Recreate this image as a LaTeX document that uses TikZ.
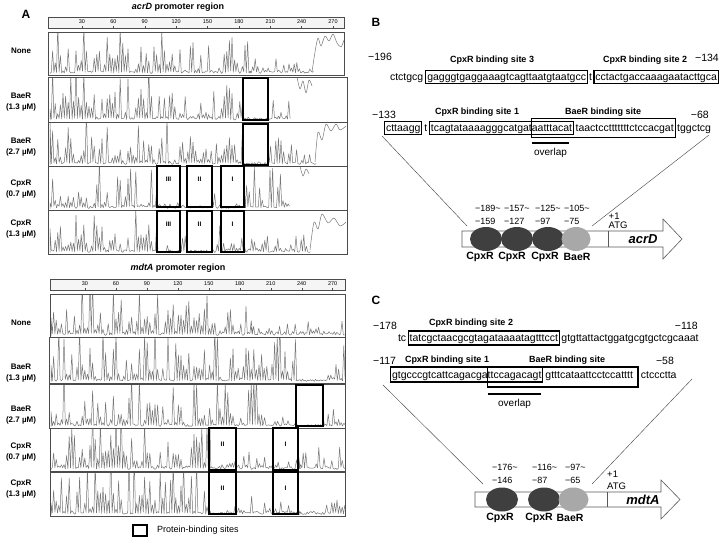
\documentclass[tikz,border=0pt]{standalone}
\usepackage{fontspec}
\setmainfont{Liberation Sans}
\usetikzlibrary{calc,shapes.geometric}
\definecolor{dk}{HTML}{3F3F3F}
\definecolor{lt}{HTML}{A8A8A8}
\definecolor{tr}{HTML}{767676}
\newcommand\seg[3]{\foreach \i in {0,...,#2}{ -- ({#1+2.6*\i},{\yb-#3*rnd*rnd}) -- ({#1+2.6*\i+1.3},{\yb-0.5-2*rnd}) }}
\newcommand\sqbox[4]{\draw[sbox] ($(#1.base west)+(-1.5,-#3)$) rectangle ($(#2.base east)+(1.5,#4)$);}
\tikzset{
  trace/.style={draw=tr, line width=0.5pt, line join=round},
  frame/.style={draw=black!70, line width=0.5pt},
  fp/.style={draw=black, line width=1.6pt},
  lab/.style={font=\fontsize{8}{10.5}\selectfont\bfseries, align=center, inner sep=0pt},
  ticklab/.style={font=\fontsize{5.5}{6}\selectfont, inner sep=0pt},
  roman/.style={font=\fontsize{6.5}{7}\selectfont\bfseries, inner sep=0pt},
  ttl/.style={font=\fontsize{9}{11}\selectfont\bfseries, inner sep=0pt},
  letter/.style={font=\fontsize{12}{14}\selectfont\bfseries, inner sep=0pt},
  seq/.style={font=\fontsize{10.5}{12}\selectfont, inner sep=0pt, outer sep=0pt, text height=7.6pt, text depth=2.4pt, anchor=base west},
  sbox/.style={draw=black, line width=1.1pt},
  hdr/.style={font=\fontsize{9}{11}\selectfont\bfseries, inner sep=0pt},
  posn/.style={font=\fontsize{10.5}{12}\selectfont, inner sep=0pt},
  epos/.style={font=\fontsize{9}{11}\selectfont, inner sep=0pt, anchor=west},
  ell/.style={ellipse, minimum width=32pt, minimum height=24pt, inner sep=0pt},
  prot/.style={font=\fontsize{10.5}{12}\selectfont\bfseries, inner sep=0pt},
  gname/.style={font=\fontsize{13}{15}\selectfont\bfseries\itshape, inner sep=0pt},
  gene/.style={draw=black!65, line width=0.6pt, fill=white},
  diag/.style={draw=black!70, line width=0.45pt},
  ovl/.style={draw=black, line width=1.1pt},
  small/.style={font=\fontsize{9.5}{11}\selectfont, inner sep=0pt, anchor=west}
}
\begin{document}
\begin{tikzpicture}[x=1pt,y=-1pt]
\useasboundingbox (0,0) rectangle (720,538);
\pgfmathsetseed{4321}

% ================= Panel A =================
\node[letter] (A) at (26,14) {A};
\node[ttl] (t1) at (178,7) {{\itshape acrD} promoter region};
\draw[frame, fill=black!4] (48,17) rectangle (344,28);
\foreach \n in {30,60,...,270} {
  \node[ticklab] (ta\n) at ({50.6+1.046*\n},22) {\n};
  \draw[frame,line width=0.3pt] ({50.6+1.046*\n},28) -- ({50.6+1.046*\n},26.3);
}
% None
\begin{scope}
\clip (48,32) rectangle (344,75);
\def\yb{73.5}
\draw[trace] (50,\yb) \seg{50}{77}{55} \seg{250}{24}{16};
\draw[trace] plot[smooth] coordinates {(312,72) (315,52) (318,38) (321,46) (325,36) (329,41) (333,34) (337,43) (341,47) (344,40)};
\end{scope}
\draw[frame] (48,32) rectangle (344,75);
% BaeR 1.3
\begin{scope}
\clip (48,77) rectangle (347,122);
\def\yb{120}
\draw[trace] (50,\yb) \seg{50}{74}{62} \seg{243}{9}{5} \seg{268}{8}{45};
\draw[trace] plot[smooth] coordinates {(297,77) (300,89) (303,81) (306,93) (309,80) (312,86)};
\end{scope}
\draw[frame] (48,77) rectangle (347,122);
% BaeR 2.7
\begin{scope}
\clip (48,122) rectangle (347,166);
\def\yb{164.5}
\draw[trace] (50,\yb) \seg{50}{74}{62} \seg{243}{9}{4} \seg{268}{18}{35};
\draw[trace] plot[smooth] coordinates {(315,162) (318,132) (322,140) (326,124) (331,131) (336,124) (340,130) (346,126)};
\end{scope}
\draw[frame] (48,122) rectangle (347,166);
% CpxR 0.7
\begin{scope}
\clip (48,166) rectangle (347,210);
\def\yb{208.5}
\draw[trace] (50,\yb) \seg{50}{41}{58} \seg{157}{9}{10} \seg{180}{2}{45} \seg{187}{9}{8} \seg{212}{3}{50} \seg{221}{9}{10} \seg{244}{17}{52};
\draw[trace] plot[smooth] coordinates {(300,166) (303,176) (306,169) (309,174)};
\end{scope}
\draw[frame] (48,166) rectangle (347,210);
% CpxR 1.3
\begin{scope}
\clip (48,210) rectangle (347,254);
\def\yb{252.5}
\draw[trace] (50,\yb) \seg{50}{41}{48} \seg{157}{9}{8} \seg{180}{2}{35} \seg{187}{9}{6} \seg{212}{3}{45} \seg{221}{9}{28} \seg{244}{25}{25};
\draw[trace] plot[smooth] coordinates {(310,250) (314,222) (318,229) (322,214) (328,223) (334,218) (340,226) (346,222)};
\end{scope}
\draw[frame] (48,210) rectangle (347,254);
% footprints acrD
\draw[fp] (243,78) rectangle (268,120);
\draw[fp] (243,124) rectangle (268,165);
\foreach \yy/\nm in {166/a,211/b} {
  \draw[fp] (157,\yy) rectangle (180,\yy+41);
  \draw[fp] (187,\yy) rectangle (212,\yy+41);
  \draw[fp] (221,\yy) rectangle (244,\yy+41);
  \node[roman] (r3\nm) at (168.5,\yy+13) {III};
  \node[roman] (r2\nm) at (199.5,\yy+13) {II};
  \node[roman] (r1\nm) at (232.5,\yy+13) {I};
}
\node[lab] (l1) at (21,51) {None};
\node[lab] (l2) at (21,102) {BaeR\\(1.3 µM)};
\node[lab] (l3) at (21,147) {BaeR\\(2.7 µM)};
\node[lab] (l4) at (21,189) {CpxR\\(0.7 µM)};
\node[lab] (l5) at (21,229) {CpxR\\(1.3 µM)};

% mdtA
\node[ttl] (t2) at (178,268) {{\itshape mdtA} promoter region};
\draw[frame, fill=black!4] (50,279) rectangle (345,290);
\foreach \n in {30,60,...,270} {
  \node[ticklab] (tb\n) at ({54+1.032*\n},284) {\n};
  \draw[frame,line width=0.3pt] ({54+1.032*\n},290) -- ({54+1.032*\n},288.3);
}
\begin{scope}
\clip (50,294) rectangle (345,337);
\def\yb{335.5}
\draw[trace] (51,\yb) \seg{51}{77}{68} \seg{251}{36}{20};
\end{scope}
\draw[frame] (50,294) rectangle (345,337);
\begin{scope}
\clip (49,337) rectangle (345,383);
\def\yb{381.5}
\draw[trace] (51,\yb) \seg{51}{94}{70} \seg{296}{10}{2} \seg{323}{8}{45};
\end{scope}
\draw[frame] (49,337) rectangle (345,383);
\begin{scope}
\clip (49,384) rectangle (345,428);
\def\yb{426.5}
\draw[trace] (51,\yb) \seg{51}{81}{66} \seg{262}{13}{18} \seg{296}{10}{3} \seg{323}{8}{25};
\end{scope}
\draw[frame] (49,384) rectangle (345,428);
\begin{scope}
\clip (50,428) rectangle (345,471);
\def\yb{469.5}
\draw[trace] (51,\yb) \seg{51}{61}{70} \seg{209}{10}{15} \seg{236}{14}{20} \seg{273}{10}{15} \seg{298}{18}{25};
\end{scope}
\draw[frame] (50,428) rectangle (345,471);
\begin{scope}
\clip (50,472) rectangle (345,516);
\def\yb{514.5}
\draw[trace] (51,\yb) \seg{51}{61}{70} \seg{209}{10}{15} \seg{236}{14}{22} \seg{273}{10}{15} \seg{298}{18}{25};
\end{scope}
\draw[frame] (50,472) rectangle (345,516);
\draw[fp] (296,385) rectangle (323,426);
\foreach \yy/\nm in {428/a,472/b} {
  \draw[fp] (209,\yy) rectangle (236,\yy+42);
  \draw[fp] (273,\yy) rectangle (298,\yy+42);
  \node[roman] (m2\nm) at (222.5,\yy+16) {II};
  \node[roman] (m1\nm) at (285.5,\yy+16) {I};
}
\node[lab] (k1) at (21,323) {None};
\node[lab] (k2) at (21,373) {BaeR\\(1.3 µM)};
\node[lab] (k3) at (21,415) {BaeR\\(2.7 µM)};
\node[lab] (k4) at (21,452) {CpxR\\(0.7 µM)};
\node[lab] (k5) at (21,489) {CpxR\\(1.3 µM)};
% legend
\draw[fp] (133,525) rectangle (147,536);
\node[font=\fontsize{9}{11}\selectfont, anchor=west, inner sep=0pt] (leg) at (157,530) {Protein-binding sites};

% ================= Panel B =================
\node[letter] (B) at (376,22) {B};
\node[posn, anchor=west] (p196) at (368,57) {−196};
\node[hdr] (h3) at (492,60) {CpxR binding site 3};
\node[hdr] (h2) at (645,60) {CpxR binding site 2};
\node[posn, anchor=east] (p134) at (719,58) {−134};
\node[seq] (b1a) at (390,80) {ctctgcg};
\node[seq] (b1b) at ([xshift=4pt]b1a.base east) {gagggtgaggaaagtcagttaatgtaatgcc};
\node[seq] (b1c) at ([xshift=3pt]b1b.base east) {t};
\node[seq] (b1d) at ([xshift=3.5pt]b1c.base east) {cctactgaccaaagaatacttgca};
\sqbox{b1b}{b1b}{9.5}{3.5}
\sqbox{b1d}{b1d}{9.5}{3.5}

\node[posn, anchor=west] (p133) at (372,115) {−133};
\node[hdr] (h1) at (477,112) {CpxR binding site 1};
\node[hdr] (hb) at (603,112) {BaeR binding site};
\node[posn, anchor=east] (p68) at (709,115) {−68};
\node[seq] (b2a) at (386,131) {cttaagg};
\node[seq] (b2b) at ([xshift=4pt]b2a.base east) {t};
\node[seq] (b2c) at ([xshift=3.5pt]b2b.base east) {tcagtataaaagggcatgat};
\node[seq] (b2d) at (b2c.base east) {aatttacat};
\node[seq] (b2e) at ([xshift=3.5pt]b2d.base east) {taactcctttttttctccacgat};
\node[seq] (b2f) at ([xshift=3.5pt]b2e.base east) {tggctcg};
\sqbox{b2a}{b2a}{9.5}{3.5}
\sqbox{b2c}{b2d}{9.5}{3.5}
\draw[sbox] ($(b2d.base west)+(-0.5,-12.5)$) rectangle ($(b2e.base east)+(1.5,6.5)$);
\coordinate (ov1a) at ($(b2d.base west)+(0,12)$);
\coordinate (ov1b) at ($(b2d.base east)+(-3,12)$);
\draw[ovl] (ov1a) -- (ov1b);
\node[font=\fontsize{10}{12}\selectfont, inner sep=0pt] (ovt1) at ($(ov1a)!0.5!(ov1b)+(0,10)$) {overlap};

% gene B
\draw[gene] (462,231) -- (663,231) -- (663,219) -- (682,239) -- (663,259) -- (663,247) -- (462,247) -- cycle;
\draw[gene] (608,231) -- (608,247);
\coordinate (dl1) at (382,136);
\coordinate (dl2) at (467,226);
\coordinate (dr1) at (709,135);
\coordinate (dr2) at (592,226);
\draw[diag] (dl1) -- (dl2);
\draw[diag] (dr1) -- (dr2);
\node[ell, fill=dk] (e1) at (486,239) {};
\node[ell, fill=dk] (e2) at (517,239) {};
\node[ell, fill=dk] (e3) at (548,239) {};
\node[ell, fill=lt, minimum width=29pt] (e4) at (576,239) {};
\foreach \xx/\ta/\tb/\nm in {475/189/159/a,504/157/127/b,535/125/97/c,564/105/75/d} {
  \node[epos] (ua\nm) at (\xx,208) {−\ta\textasciitilde};
  \node[epos] (ub\nm) at (\xx,221) {−\tb};
}
\node[small] (pl1) at (608.5,216) {+1};
\node[small] (atg1) at (608.5,225.5) {ATG};
\node[gname] (acrd) at (643,239.5) {acrD};
\node[prot] (q1) at (480,257) {CpxR};
\node[prot] (q2) at (512,257) {CpxR};
\node[prot] (q3) at (545,257) {CpxR};
\node[prot] (q4) at (577,257) {BaeR};

% ================= Panel C =================
\node[letter] (C) at (376,300) {C};
\node[posn, anchor=west] (p178) at (373,326) {−178};
\node[hdr] (g2) at (471,323) {CpxR binding site 2};
\node[posn, anchor=east] (p118) at (698,326) {−118};
\node[seq] (c1a) at (398,341) {tc};
\node[seq] (c1b) at ([xshift=3.5pt]c1a.base east) {tatcgctaacgcgtagataaaatagtttcct};
\node[seq] (c1c) at ([xshift=3.5pt]c1b.base east) {gtgttattactggatgcgtgctcgcaaat};
\sqbox{c1b}{c1b}{10}{4}

\node[posn, anchor=west] (p117) at (373,361) {−117};
\node[hdr] (g1) at (447,360) {CpxR binding site 1};
\node[hdr] (gb) at (567,360) {BaeR binding site};
\node[posn] (p58) at (665,361) {−58};
\node[seq] (c2a) at (392,378) {gtgcccgtcattcagacga};
\node[seq] (c2b) at (c2a.base east) {ttccagacagt};
\node[seq] (c2c) at ([xshift=4pt]c2b.base east) {gtttcataattcctccatttt};
\node[seq] (c2d) at ([xshift=8pt]c2c.base east) {ctccctta};
\sqbox{c2a}{c2b}{11}{4}
\draw[sbox] ($(c2b.base west)+(-0.5,-11)$) rectangle ($(c2c.base east)+(5,9)$);
\coordinate (ov2a) at ($(c2b.base west)+(0,16)$);
\coordinate (ov2b) at ($(c2b.base east)+(0,16)$);
\draw[ovl] (ov2a) -- (ov2b);
\node[font=\fontsize{10}{12}\selectfont, inner sep=0pt] (ovt2) at ($(ov2a)!0.5!(ov2b)+(0,10)$) {overlap};

% gene C
\draw[gene] (475,492) -- (661,492) -- (661,480) -- (680,499.5) -- (661,519) -- (661,507) -- (475,507) -- cycle;
\draw[gene] (607,492) -- (607,507);
\coordinate (cl1) at (383,385);
\coordinate (cl2) at (483,484);
\coordinate (cr1) at (692,379);
\coordinate (cr2) at (592,484);
\draw[diag] (cl1) -- (cl2);
\draw[diag] (cr1) -- (cr2);
\node[ell, fill=dk] (f1) at (502,499.5) {};
\node[ell, fill=dk] (f2) at (544,499.5) {};
\node[ell, fill=lt, minimum width=30pt] (f3) at (573.5,499.5) {};
\foreach \xx/\ta/\tb/\nm in {492/176/146/a,532/116/87/b,565/97/65/c} {
  \node[epos] (va\nm) at (\xx,467) {−\ta\textasciitilde};
  \node[epos] (vb\nm) at (\xx,480) {−\tb};
}
\node[small] (pl2) at (607,474) {+1};
\node[small] (atg2) at (607,486.5) {ATG};
\node[gname] (mdta) at (643,500) {mdtA};
\node[prot] (s1) at (500,518) {CpxR};
\node[prot] (s2) at (539,518) {CpxR};
\node[prot] (s3) at (570,518) {BaeR};
\end{tikzpicture}
\end{document}
